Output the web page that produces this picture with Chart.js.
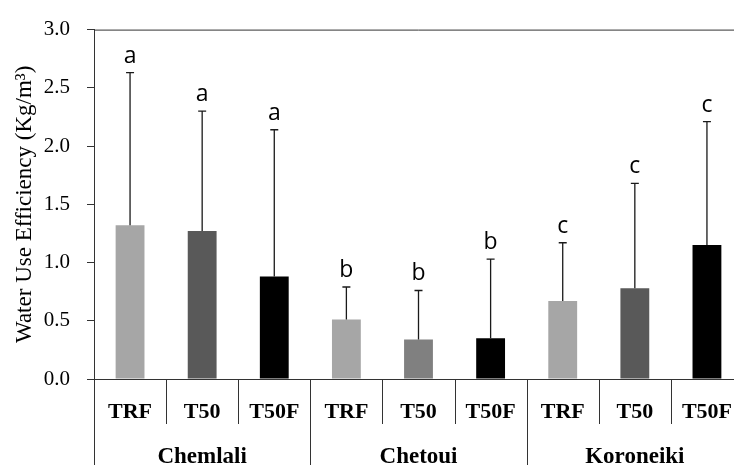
<!DOCTYPE html>
<html>
<head>
<meta charset="utf-8">
<title>Water Use Efficiency</title>
<script src="https://cdn.jsdelivr.net/npm/chart.js@4.4.1/dist/chart.umd.min.js"></script>
<style>
  html, body { margin: 0; padding: 0; background: #fff; overflow: hidden; }
  #wrap { width: 760px; height: 465px; }
</style>
</head>
<body>
<div id="wrap"><canvas id="wueChart" width="760" height="465"></canvas></div>
<script>
// Data
const cultivars = ['Chemlali', 'Chetoui', 'Koroneiki'];
const treatments = ['TRF', 'T50', 'T50F'];
const wueMean = [1.32, 1.27, 0.88, 0.51, 0.34, 0.35, 0.67, 0.78, 1.15];
const wueSd = [1.31, 1.03, 1.26, 0.28, 0.42, 0.68, 0.50, 0.90, 1.06];
const groupLetters = ['a', 'a', 'a', 'b', 'b', 'b', 'c', 'c', 'c'];
const yTicks = [0, 0.5, 1.0, 1.5, 2.0, 2.5, 3.0];

const barColors = ['#a6a6a6', '#595959', '#000000',
                   '#a6a6a6', '#808080', '#000000',
                   '#a6a6a6', '#595959', '#000000'];

const labels = cultivars.flatMap(c => treatments.map(t => c + ' ' + t));
const axisColor = '#333333';
const serif = '"Liberation Serif", "Times New Roman", serif';

// error bars, significance letters, top frame and two-level category axis
const decorPlugin = {
  id: 'decor',
  afterDatasetsDraw(chart) {
    const ctx = chart.ctx;
    const y = chart.scales.y;
    const meta = chart.getDatasetMeta(0);
    ctx.save();
    ctx.strokeStyle = '#1a1a1a';
    ctx.lineWidth = 1.3;
    ctx.fillStyle = '#000';
    ctx.font = '23px "Open Sans", sans-serif';
    ctx.textAlign = 'center';
    ctx.textBaseline = 'alphabetic';
    meta.data.forEach((bar, i) => {
      const yTop = y.getPixelForValue(wueMean[i] + wueSd[i]);
      const yBase = y.getPixelForValue(wueMean[i]);
      ctx.beginPath();
      ctx.moveTo(bar.x, yBase);
      ctx.lineTo(bar.x, yTop);
      ctx.moveTo(bar.x - 4, yTop);
      ctx.lineTo(bar.x + 4, yTop);
      ctx.stroke();
      ctx.fillText(groupLetters[i], bar.x, yTop - 10);
    });
    ctx.restore();
  },
  afterDraw(chart) {
    const ctx = chart.ctx;
    const area = chart.chartArea;
    const x = chart.scales.x;
    const n = labels.length;
    const step = (area.right - area.left) / n;
    const H = chart.height;
    ctx.save();
    ctx.strokeStyle = axisColor;
    ctx.lineWidth = 1;

    // frame line along the top of the plot
    ctx.beginPath();
    ctx.moveTo(area.left, area.top + 0.5);
    ctx.lineTo(area.right, area.top + 0.5);
    ctx.stroke();

    // separators below the axis
    for (let k = 0; k <= n; k++) {
      const px = Math.round(area.left + k * step) + 0.5;
      const isGroup = k % treatments.length === 0;
      ctx.beginPath();
      ctx.moveTo(px, area.bottom);
      ctx.lineTo(px, isGroup ? H : area.bottom + 45);
      ctx.stroke();
    }

    ctx.fillStyle = '#000';
    ctx.textAlign = 'center';
    ctx.textBaseline = 'alphabetic';
    ctx.font = 'bold 22px ' + serif;
    labels.forEach((_, i) => {
      ctx.fillText(treatments[i % treatments.length], x.getPixelForValue(i), area.bottom + 39);
    });
    ctx.font = 'bold 23px ' + serif;
    cultivars.forEach((c, g) => {
      const mid = g * treatments.length + 1;
      ctx.fillText(c, x.getPixelForValue(mid), H - 2);
    });
    ctx.restore();
  }
};

const ctx = document.getElementById('wueChart').getContext('2d');
new Chart(ctx, {
  type: 'bar',
  data: {
    labels: labels,
    datasets: [{
      data: wueMean,
      backgroundColor: barColors,
      borderWidth: 0,
      categoryPercentage: 1.0,
      barPercentage: 0.4
    }]
  },
  options: {
    responsive: false,
    animation: false,
    layout: { padding: { top: 24, right: 17, left: 0, bottom: 0 } },
    plugins: {
      legend: { display: false },
      tooltip: { enabled: false }
    },
    scales: {
      x: {
        grid: { display: false },
        border: { display: true, color: axisColor, width: 1 },
        ticks: { display: false },
        afterFit(scale) { scale.height = 86; }
      },
      y: {
        min: 0,
        max: 3,
        afterBuildTicks(scale) { scale.ticks = yTicks.map(v => ({ value: v })); },
        grid: { drawOnChartArea: false, drawTicks: true, tickLength: 7, color: axisColor },
        border: { display: true, color: axisColor, width: 1 },
        ticks: {
          padding: 17,
          color: '#000',
          font: { family: serif, size: 21 },
          callback: v => v.toFixed(1)
        },
        title: {
          display: true,
          text: 'Water Use Efficiency (Kg/m³)',
          color: '#000',
          font: { family: serif, size: 23 },
          padding: { top: 11, bottom: 0 }
        },
        afterFit(scale) { scale.width = 94; }
      }
    }
  },
  plugins: [decorPlugin]
});
</script>
</body>
</html>
